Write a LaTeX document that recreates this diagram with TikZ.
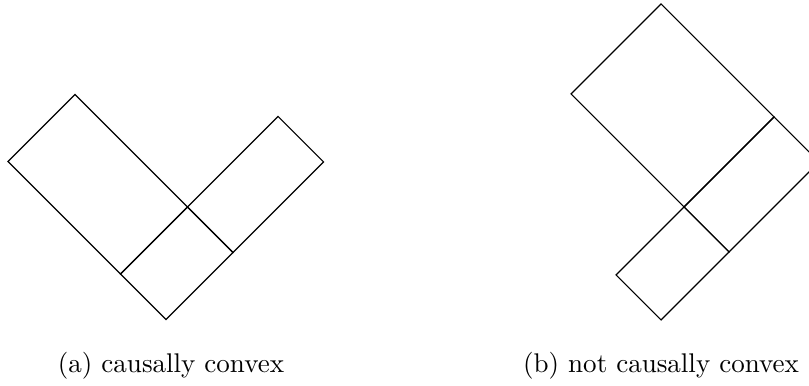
\documentclass[tikz,border=0pt]{standalone}
\begin{document}
\begin{tikzpicture}[x=0.37pt,y=-0.37pt,
  edge/.style={draw=black,line width=0.4pt,line join=miter},
  caption/.style={anchor=base,inner sep=0pt},
  cone/.style={x={(0.37pt,0.37pt)},y={(-0.37pt,0.37pt)}}]
\clip (0,0) rectangle (809,386);
% (a) causally convex
\begin{scope}[shift={(166,319.5)},cone]
  \coordinate (aB) at (0,0);
  \coordinate (aL) at (0,158);
  \coordinate (aLT) at (67,158);
  \coordinate (aX) at (67,45.5);
  \coordinate (aP1) at (0,45.5);
  \coordinate (aP2) at (67,0);
  \coordinate (aR) at (157.5,0);
  \coordinate (aRT) at (157.5,45.5);
  \draw[edge] (aP1) -- (aL) -- (aLT) -- (aX) -- cycle;
  \draw[edge] (aX) -- (aRT) -- (aR) -- (aP2) -- cycle;
  \draw[edge] (aB) -- (aP1) -- (aX) -- (aP2) -- cycle;
\end{scope}
% (b) not causally convex
\begin{scope}[shift={(661,320)},cone]
  \coordinate (bB) at (0,0);
  \coordinate (bP1) at (0,45);
  \coordinate (bP2) at (68,0);
  \coordinate (bX) at (68,45);
  \coordinate (bL) at (68,158);
  \coordinate (bT) at (158,158);
  \coordinate (bRT) at (158,45);
  \coordinate (bR) at (158,0);
  \draw[edge] (bX) -- (bL) -- (bT) -- (bRT) -- cycle;
  \draw[edge] (bX) -- (bRT) -- (bR) -- (bP2) -- cycle;
  \draw[edge] (bB) -- (bP1) -- (bX) -- (bP2) -- cycle;
\end{scope}
\node[caption] (capa) at (171,373) {(a) causally convex};
\node[caption] (capb) at (661,373) {(b) not causally convex};
\end{tikzpicture}
\end{document}
